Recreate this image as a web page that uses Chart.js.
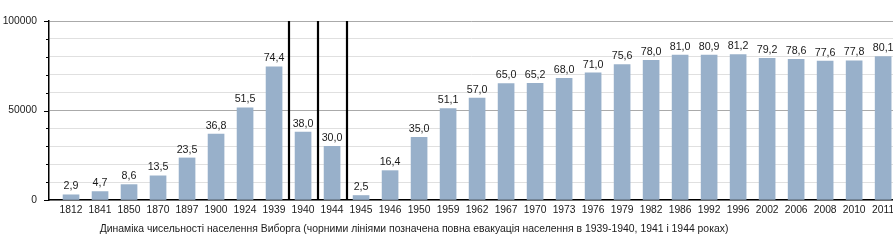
<!DOCTYPE html>
<html>
<head>
<meta charset="utf-8">
<script src="https://cdn.jsdelivr.net/npm/chart.js@4/dist/chart.umd.min.js"></script>
<style>
html,body{margin:0;padding:0;background:#fff;}
#wrap{width:893px;height:250px;position:relative;}
</style>
</head>
<body>
<div id="wrap"><canvas id="c" width="893" height="250"></canvas></div>
<script>
const years = ['1812','1841','1850','1870','1897','1900','1924','1939','1940','1944','1945','1946','1950','1959','1962','1967','1970','1973','1976','1979','1982','1986','1992','1996','2002','2006','2008','2010','2011'];
const population = [2900,4700,8600,13500,23500,36800,51500,74400,38000,30000,2500,16400,35000,51100,57000,65000,65200,68000,71000,75600,78000,81000,80900,81200,79200,78600,77600,77800,80100];
const evacuationLines = [7.5, 8.5, 9.5];
const yLabels = [0, 50000, 100000];
const caption = 'Динаміка чисельності населення Виборга (чорними лініями позначена повна евакуація населення в 1939-1940, 1941 і 1944 роках)';

const FONT = '"Liberation Sans", Arial, sans-serif';

const extras = {
  id: 'extras',
  afterDatasetsDraw(chart) {
    const ctx = chart.ctx;
    const xs = chart.scales.x, ys = chart.scales.y;
    ctx.save();
    // value labels
    ctx.font = '10.7px ' + FONT;
    ctx.fillStyle = '#1a1a1a';
    ctx.textAlign = 'center';
    ctx.textBaseline = 'bottom';
    chart.getDatasetMeta(0).data.forEach((bar, i) => {
      const lbl = (population[i] / 1000).toFixed(1).replace('.', ',');
      ctx.fillText(lbl, bar.x, bar.y - 3);
    });
    // evacuation lines
    ctx.strokeStyle = '#000';
    ctx.lineWidth = 2.2;
    evacuationLines.forEach(v => {
      const x = Math.round(xs.getPixelForValue(v));
      ctx.beginPath();
      ctx.moveTo(x, ys.getPixelForValue(100000));
      ctx.lineTo(x, ys.getPixelForValue(0));
      ctx.stroke();
    });
    // y tick marks (major longer, minor shorter)
    ctx.lineWidth = 1;
    ctx.strokeStyle = '#000';
    ys.ticks.forEach(t => {
      const y = Math.round(ys.getPixelForValue(t.value)) + 0.5;
      const len = yLabels.includes(t.value) ? 5 : 3;
      ctx.beginPath();
      ctx.moveTo(ys.right - len, y);
      ctx.lineTo(ys.right, y);
      ctx.stroke();
    });
    // caption
    ctx.font = '10.4px ' + FONT;
    ctx.fillStyle = '#1a1a1a';
    ctx.textAlign = 'center';
    ctx.textBaseline = 'middle';
    ctx.fillText(caption, 414, 229);
    ctx.restore();
  }
};

new Chart(document.getElementById('c'), {
  type: 'bar',
  data: {
    datasets: [{
      data: population.map((v, i) => ({x: i, y: v})),
      backgroundColor: '#98b0ca',
      borderWidth: 0,
      barThickness: 16
    }]
  },
  options: {
    responsive: false,
    animation: false,
    devicePixelRatio: 1,
    layout: { padding: { top: 21, right: 0, left: 0, bottom: 0 } },
    plugins: { legend: { display: false }, tooltip: { enabled: false }, title: { display: false } },
    scales: {
      x: {
        type: 'linear',
        offset: false,
        min: -0.76,
        max: 28.34,
        afterBuildTicks: (s) => { s.ticks = years.map((_, i) => ({value: i})); },
        afterFit: (s) => { s.height = 50; s.paddingLeft = 0; s.paddingRight = 0; },
        grid: { display: false, drawTicks: false },
        border: { color: '#000', width: 1.5 },
        ticks: {
          autoSkip: false, maxRotation: 0, minRotation: 0, padding: 4,
          color: '#1a1a1a', font: { family: FONT, size: 10.3 },
          callback: (v) => years[v] !== undefined ? years[v] : ''
        }
      },
      y: {
        min: 0, max: 100000,
        afterBuildTicks: (s) => { const t = []; for (let v = 0; v <= 100000; v += 10000) t.push({value: v}); s.ticks = t; },
        afterFit: (s) => { s.width = 49; },
        border: { color: '#000', width: 1.5 },
        grid: {
          drawTicks: false,
          color: (c) => (c.tick && (c.tick.value === 50000 || c.tick.value === 100000)) ? '#aaa' : '#e0e0e0'
        },
        ticks: {
          padding: 12,
          color: '#1a1a1a', font: { family: FONT, size: 10.3 },
          callback: (v) => yLabels.includes(v) ? String(v) : ''
        }
      }
    }
  },
  plugins: [extras]
});
</script>
</body>
</html>
